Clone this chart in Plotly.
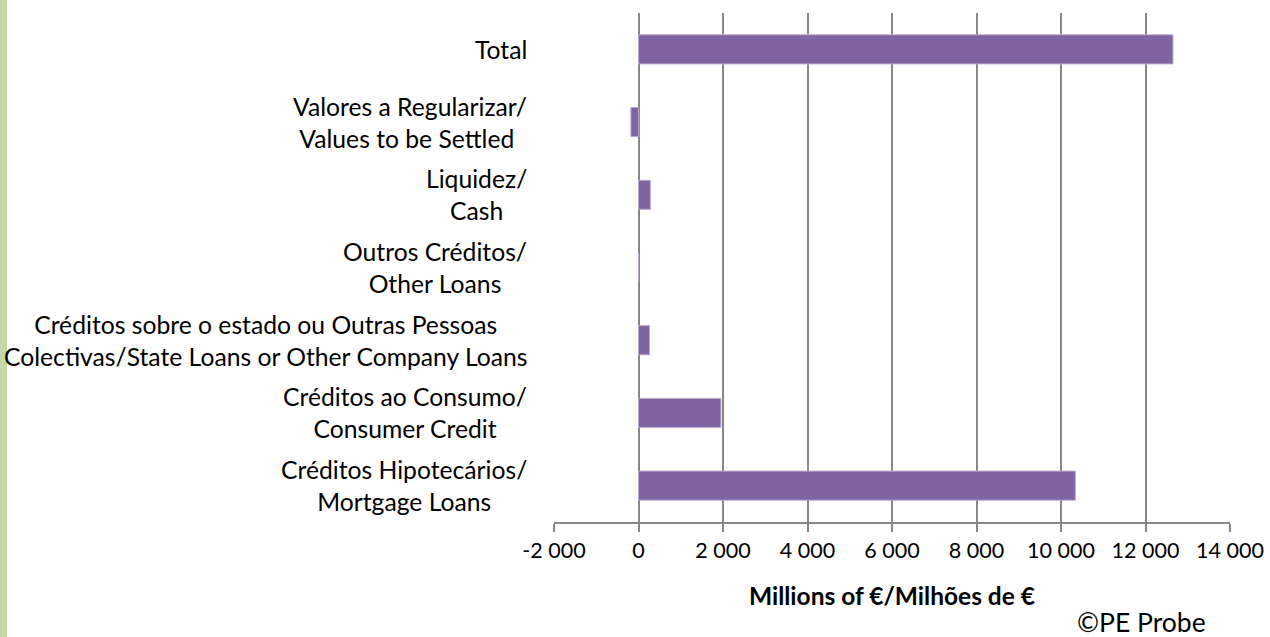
import plotly.graph_objects as go

# Data (bottom to top, as drawn)
categories = [
    "Créditos Hipotecários/<br>Mortgage Loans",
    "Créditos ao Consumo/<br>Consumer Credit",
    "Créditos sobre o estado ou Outras Pessoas<br>Colectivas/State Loans or Other Company Loans",
    "Outros Créditos/<br>Other Loans",
    "Liquidez/<br>Cash",
    "Valores a Regularizar/<br>Values to be Settled ",
    "Total",
]
values = [10340, 1950, 260, 0, 280, -180, 12650]

x_tick_values = [-2000, 0, 2000, 4000, 6000, 8000, 10000, 12000, 14000]
x_tick_labels = ["-2 000", "0", "2 000", "4 000", "6 000", "8 000", "10 000", "12 000", "14 000"]
category_boundaries = [-0.5, 0.5, 1.5, 2.5, 3.5, 4.5, 5.5, 6.5]

W, H = 1270, 637
ML, MR, MT, MB = 554, 40, 13, 115
PW = W - ML - MR
PH = H - MT - MB

FONT = "Lato"
GRID = "#878787"

fig = go.Figure()
fig.add_trace(go.Bar(
    y=categories,
    x=values,
    orientation="h",
    marker=dict(color="#8064a2", line=dict(color="#b9a9cf", width=1)),
    hoverinfo="x+y",
))

annotations = []
for c in categories:
    annotations.append(dict(
        xref="paper", yref="y", x=0, y=c, xshift=-25,
        xanchor="right", yanchor="middle", align="center",
        text=c, showarrow=False,
        font=dict(family=FONT, size=24.7, color="#000000"),
    ))

annotations.append(dict(
    xref="paper", yref="paper", x=(1141 - ML) / PW, y=-(622 - MT - PH) / PH,
    xanchor="center", yanchor="middle", text="©PE Probe", showarrow=False,
    font=dict(family=FONT, size=26.5, color="#000000"),
))

shapes = [dict(
    type="rect", xref="paper", yref="paper",
    x0=-ML / PW, x1=-(ML - 7) / PW, y0=-MB / PH, y1=1 + MT / PH,
    fillcolor="#c6d6a6", line=dict(width=0), layer="below",
)]

fig.update_layout(
    width=W, height=H,
    margin=dict(l=ML, r=MR, t=MT, b=MB, autoexpand=False),
    paper_bgcolor="white", plot_bgcolor="white",
    bargap=0.6,
    showlegend=False,
    font=dict(family=FONT, size=22, color="#000000"),
    xaxis=dict(
        range=[-2000, 14000],
        tickvals=x_tick_values, ticktext=x_tick_labels,
        showgrid=True, gridcolor=GRID, gridwidth=1.8,
        zeroline=False,
        showline=True, linecolor=GRID, linewidth=1.8,
        ticks="outside", ticklen=8, tickcolor=GRID, tickwidth=1.8,
        tickfont=dict(family=FONT, size=21.5),
        title=dict(text="<b>Millions of €/Milhões de €</b>", standoff=26,
                   font=dict(family=FONT, size=24.5)),
        automargin=False,
        fixedrange=True,
    ),
    yaxis=dict(
        type="category",
        categoryorder="array", categoryarray=categories,
        range=[-0.5, 6.5],
        showticklabels=False, ticks="", showgrid=False, showline=False,
        zeroline=False, fixedrange=True, automargin=False,
    ),
    yaxis2=dict(
        overlaying="y", anchor="free", position=2000 / 16000, side="left",
        range=[-0.5, 6.5], tickvals=category_boundaries,
        showticklabels=False, ticks="outside", ticklen=7,
        tickcolor=GRID, tickwidth=1.8,
        showline=True, linecolor=GRID, linewidth=2,
        showgrid=False, zeroline=False, fixedrange=True, automargin=False,
    ),
    annotations=annotations,
    shapes=shapes,
)

fig.write_html(
    "out.html",
    config={"displayModeBar": False},
    post_script="document.body.style.margin='0';document.body.style.overflow='hidden';",
)
